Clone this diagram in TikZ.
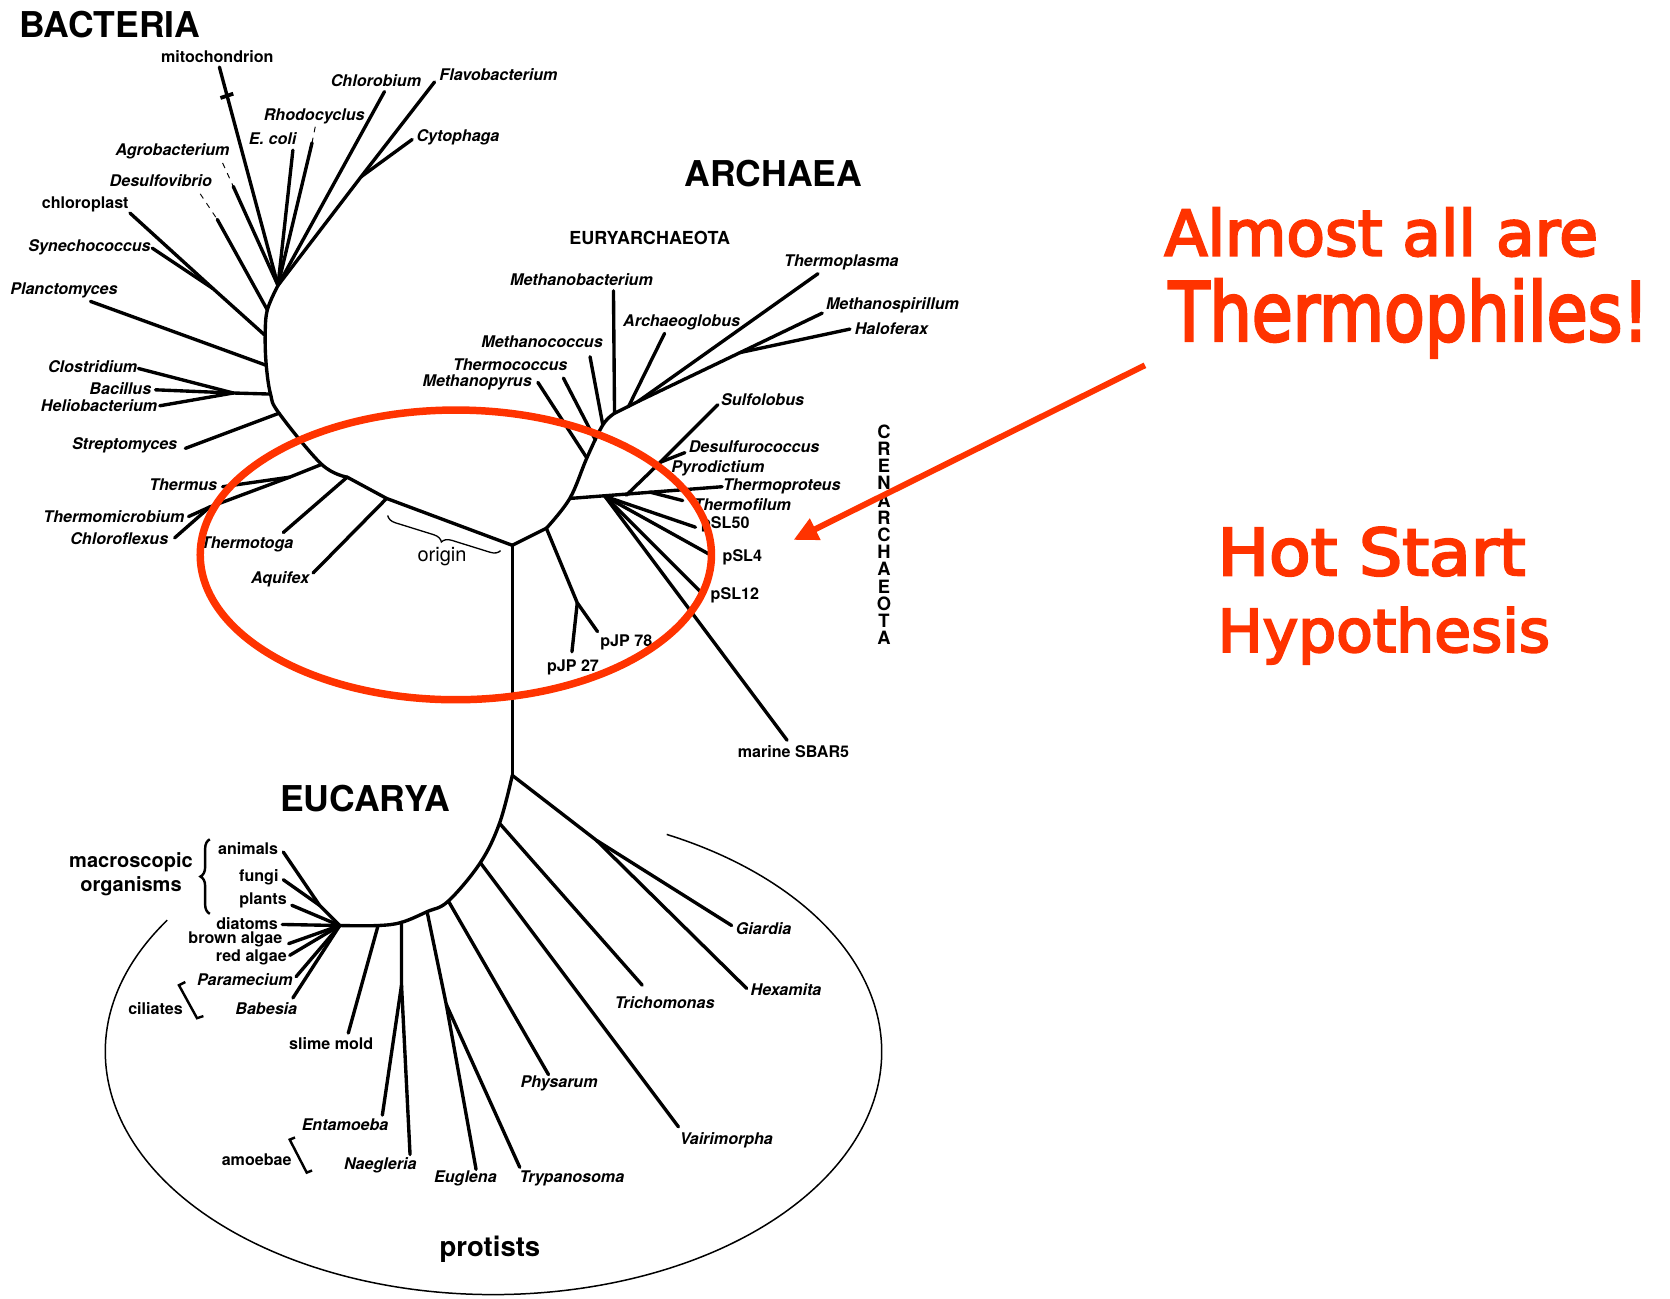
\documentclass[tikz,border=0pt]{standalone}
\usepackage{fontspec}
\usepackage{graphicx}
\setmainfont{TeX Gyre Heros}
\newfontfamily\comicfont[FakeBold=3.5]{DejaVu Sans}
\usetikzlibrary{arrows.meta,decorations.pathreplacing}
\definecolor{hotred}{RGB}{255,51,0}
\tikzset{
  branch/.style={line width=1.8pt, line cap=round, line join=round},
  faint/.style={line width=0.5pt},
  taxon/.style={font=\fontsize{8.6}{10}\selectfont\bfseries\itshape, inner sep=0pt},
  plainname/.style={font=\fontsize{8.6}{10}\selectfont\bfseries, inner sep=0pt},
  kingdom/.style={font=\fontsize{19}{22}\selectfont\bfseries, inner sep=0pt},
  hotnote/.style={text=hotred, inner sep=0pt, anchor=base west, font=\comicfont},
  hotring/.style={draw=hotred, line width=4pt},
  hotarrow/.style={draw=hotred, line width=3.2pt, -{Triangle[length=13pt,width=12pt]}},
}
\begin{document}
\begin{tikzpicture}[x=0.02cm, y=-0.02cm]
\useasboundingbox (0,0) rectangle (1568,1219);

\coordinate (root) at (481,512);
\coordinate (bj1) at (363,468);
\coordinate (bj2) at (326,448);
\coordinate (bj3) at (302,436);
\coordinate (bj4) at (262,388);
\coordinate (bj5) at (254,370);
\coordinate (bj6) at (250,343);
\coordinate (bj7) at (249,315);
\coordinate (bj8) at (251,291);
\coordinate (bj9) at (261,268);
\draw[branch] (root) -- (bj1) -- (bj2);
\draw[branch] plot[smooth, tension=0.6] coordinates {(bj2) (bj3) (bj4) (bj5) (bj6) (bj7) (bj8) (bj9)};

\coordinate (mi1) at (206,63);
\coordinate (mt1) at (207,92);
\coordinate (mt2) at (219,88);
\coordinate (ag1) at (209,153);
\coordinate (ag2) at (219,175);
\coordinate (ec1) at (275,141);
\coordinate (rh1) at (296,119);
\coordinate (rh2) at (293,134);
\coordinate (cb1) at (361,86);
\coordinate (fl1) at (408,77);
\coordinate (cy1) at (387,131);
\coordinate (cyj) at (339,166);
\coordinate (dv1) at (188,182);
\coordinate (dv2) at (204,206);
\coordinate (cp1) at (122,200);
\coordinate (sy1) at (143,233);
\coordinate (syj) at (200,271);
\coordinate (pl1) at (85,283);
\coordinate (cl1) at (130,346);
\coordinate (ba1) at (146,366);
\coordinate (he1) at (150,381);
\coordinate (clj) at (219,369);
\coordinate (st1) at (174,421);
\coordinate (ts1) at (209,457);
\coordinate (tsj) at (272,448);
\coordinate (tm1) at (177,485);
\coordinate (cf1) at (164,505);
\coordinate (tmj) at (197,476);
\coordinate (tg1) at (266,500);
\coordinate (aq1) at (294,538);
\draw[branch] (mi1) -- (bj9);
\draw[line width=2pt] (mt1) -- (mt2);
\draw[faint, dashed] (ag1) -- (ag2);
\draw[branch] (ag2) -- (bj9);
\draw[branch] (ec1) -- (bj9);
\draw[faint, dashed] (rh1) -- (rh2);
\draw[branch] (rh2) -- (bj9);
\draw[branch] (cb1) -- (bj9);
\draw[branch] (fl1) -- (cyj) -- (bj9);
\draw[branch] (cy1) -- (cyj);
\draw[faint, dashed] (dv1) -- (dv2);
\draw[branch] (dv2) -- (bj8);
\draw[branch] (cp1) -- (syj) -- (bj7);
\draw[branch] (sy1) -- (syj);
\draw[branch] (pl1) -- (bj6);
\draw[branch] (cl1) -- (clj);
\draw[branch] (ba1) -- (clj);
\draw[branch] (he1) -- (clj);
\draw[branch] (clj) -- (bj5);
\draw[branch] (st1) -- (bj4);
\draw[branch] (ts1) -- (tsj) -- (bj3);
\draw[branch] (tm1) -- (tmj);
\draw[branch] (cf1) -- (tmj);
\draw[branch] (tmj) -- (tsj);
\draw[branch] (tg1) -- (bj2);
\draw[branch] (aq1) -- (bj1);

\coordinate (aj1) at (513,496);
\coordinate (aj2) at (535,468);
\coordinate (aj3) at (551,430);
\coordinate (aj4) at (559,413);
\coordinate (aj5) at (566,399);
\coordinate (aj6) at (577,388);
\draw[branch] (root) -- (aj1);
\draw[branch] plot[smooth, tension=0.6] coordinates {(aj1) (aj2) (aj3) (aj5) (aj6)};

\coordinate (mp1) at (505,359);
\coordinate (tc1) at (529,355);
\coordinate (mc1) at (554,335);
\coordinate (mb1) at (576,273);
\coordinate (euj) at (599,377);
\coordinate (arg1) at (624,313);
\coordinate (argj) at (590,382);
\coordinate (tp1) at (768,257);
\coordinate (ms1) at (772,294);
\coordinate (hf1) at (798,309);
\coordinate (hfj) at (695,331);
\coordinate (pjj) at (542,566);
\coordinate (pj78) at (561,593);
\coordinate (pj27) at (537,612);
\draw[branch] (mp1) -- (aj3);
\draw[branch] (tc1) -- (aj4);
\draw[branch] (mc1) -- (aj5);
\draw[branch] (mb1) -- (aj6) -- (euj);
\draw[branch] (arg1) -- (argj);
\draw[branch] (tp1) -- (euj);
\draw[branch] (ms1) -- (hfj) -- (euj);
\draw[branch] (hf1) -- (hfj);
\draw[branch] (aj1) -- (pjj) -- (pj78);
\draw[branch] (pjj) -- (pj27);

\coordinate (crj) at (568,466);
\coordinate (tpr1) at (678,457);
\coordinate (tf1) at (641,470);
\coordinate (tfj) at (610,462);
\coordinate (su1) at (674,380);
\coordinate (suj) at (588,465);
\coordinate (dc1) at (643,425);
\coordinate (dcj) at (620,434);
\coordinate (ps50) at (653,495);
\coordinate (ps4) at (667,521);
\coordinate (ps12) at (659,557);
\coordinate (sb1) at (739,695);
\draw[branch] (aj2) -- (tpr1);
\draw[branch] (tf1) -- (tfj);
\draw[branch] (su1) -- (dcj) -- (suj);
\draw[branch] (dc1) -- (dcj);
\draw[branch] (ps50) -- (crj);
\draw[branch] (ps4) -- (crj);
\draw[branch] (ps12) -- (crj);
\draw[branch] (sb1) -- (crj);

\coordinate (ej0) at (481,728);
\coordinate (ej1) at (469,773);
\coordinate (ej2) at (451,810);
\coordinate (ej3) at (421,846);
\coordinate (ej4) at (401,856);
\coordinate (ej5) at (377,866);
\coordinate (ej6) at (355,869);
\coordinate (ej7) at (319,869);
\draw[branch] (root) -- (ej0);
\draw[branch] plot[smooth, tension=0.6] coordinates {(ej0) (ej1) (ej2) (ej3) (ej4) (ej5) (ej6) (ej7)};

\coordinate (ghj) at (560,789);
\coordinate (gi1) at (687,869);
\coordinate (hx1) at (701,928);
\coordinate (tr1) at (603,925);
\coordinate (va1) at (637,1058);
\coordinate (ph1) at (515,1009);
\coordinate (etj) at (419,943);
\coordinate (eu1) at (447,1098);
\coordinate (ty1) at (488,1096);
\coordinate (enj) at (377,925);
\coordinate (en1) at (359,1047);
\coordinate (ng1) at (385,1084);
\coordinate (sm1) at (327,970);
\coordinate (an1) at (266,800);
\coordinate (fu1) at (266,826);
\coordinate (afj) at (300,850);
\coordinate (pt1) at (274,850);
\coordinate (di1) at (265,868);
\coordinate (br1) at (271,886);
\coordinate (ra1) at (272,897);
\coordinate (pa1) at (278,917);
\coordinate (bb1) at (275,937);
\draw[branch] (ej0) -- (ghj) -- (gi1);
\draw[branch] (ghj) -- (hx1);
\draw[branch] (ej1) -- (tr1);
\draw[branch] (ej2) -- (va1);
\draw[branch] (ej3) -- (ph1);
\draw[branch] (ej4) -- (etj) -- (eu1);
\draw[branch] (etj) -- (ty1);
\draw[branch] (ej5) -- (enj) -- (en1);
\draw[branch] (enj) -- (ng1);
\draw[branch] (ej6) -- (sm1);
\draw[branch] (an1) -- (afj) -- (ej7);
\draw[branch] (fu1) -- (afj);
\draw[branch] (pt1) -- (ej7);
\draw[branch] (di1) -- (ej7);
\draw[branch] (br1) -- (ej7);
\draw[branch] (ra1) -- (ej7);
\draw[branch] (pa1) -- (ej7);
\draw[branch] (bb1) -- (ej7);

\node[kingdom] (nBac) at (103,23) {BACTERIA};
\node[plainname] (nMito) at (204,53) {mitochondrion};
\node[taxon] (nChlb) at (353,76) {Chlorobium};
\node[taxon] (nFlav) at (468,70) {Flavobacterium};
\node[taxon] (nRhod) at (295,109) {Rhodocyclus};
\node[taxon] (nEcol) at (256,130) {E. coli};
\node[taxon] (nCyto) at (430,129) {Cytophaga};
\node[taxon] (nAgro) at (162,142) {Agrobacterium};
\node[taxon] (nDesv) at (151,170) {Desulfovibrio};
\node[plainname] (nChlp) at (80,192) {chloroplast};
\node[taxon] (nSyne) at (84,232) {Synechococcus};
\node[taxon] (nPlan) at (60,273) {Planctomyces};
\node[taxon] (nClos) at (87,344) {Clostridium};
\node[taxon] (nBaci) at (113,365) {Bacillus};
\node[taxon] (nHeli) at (93,381) {Heliobacterium};
\node[taxon] (nStre) at (117,418) {Streptomyces};
\node[taxon] (nThms) at (172,455) {Thermus};
\node[taxon] (nThmi) at (107,485) {Thermomicrobium};
\node[taxon] (nChfl) at (112,506) {Chloroflexus};
\node[taxon] (nThtg) at (232,511) {Thermotoga};
\node[taxon] (nAqui) at (263,544) {Aquifex};
\node[font=\fontsize{10.7}{12}\selectfont, inner sep=0pt] (nOrig) at (415,523) {origin};
\draw[line width=0.7pt, decorate, decoration={brace, amplitude=5pt}] (470,517) -- (364,484);

\node[kingdom] (nArc) at (726,163) {ARCHAEA};
\node[font=\fontsize{9.6}{11}\selectfont\bfseries, inner sep=0pt] (nEury) at (610,223) {EURYARCHAEOTA};
\node[taxon] (nTpla) at (790,246) {Thermoplasma};
\node[taxon] (nMbac) at (546,263) {Methanobacterium};
\node[taxon] (nMspi) at (838,287) {Methanospirillum};
\node[taxon] (nArcg) at (640,303) {Archaeoglobus};
\node[taxon] (nHalo) at (837,309) {Haloferax};
\node[taxon] (nMcoc) at (509,321) {Methanococcus};
\node[taxon] (nTcoc) at (479,342) {Thermococcus};
\node[taxon] (nMpyr) at (448,359) {Methanopyrus};
\node[taxon] (nSulf) at (716,375) {Sulfolobus};
\node[taxon] (nDsfc) at (708,419) {Desulfurococcus};
\node[taxon] (nPyro) at (674,440) {Pyrodictium};
\node[taxon] (nTpro) at (734,457) {Thermoproteus};
\node[taxon] (nTfil) at (697,474) {Thermofilum};
\node[plainname] (nS50) at (681,492) {pSL50};
\node[plainname] (nS4) at (697,523) {pSL4};
\node[plainname] (nS12) at (690,559) {pSL12};
\node[plainname] (nJ78) at (588,603) {pJP 78};
\node[plainname] (nJ27) at (538,627) {pJP 27};
\node[plainname] (nSbar) at (745,706) {marine SBAR5};
\node[font=\fontsize{9.8}{9.2}\selectfont\bfseries, align=center, inner sep=0pt] (nCren) at (830,502)
  {C\\R\\E\\N\\A\\R\\C\\H\\A\\E\\O\\T\\A};

\node[kingdom] (nEuc) at (343,750) {EUCARYA};
\node[font=\fontsize{10.7}{12.5}\selectfont\bfseries, align=center, inner sep=0pt] (nMacro) at (123,821) {macroscopic\\organisms};
\draw[line width=1.3pt, decorate, decoration={brace, amplitude=5pt}] (197,858) -- (197,788);
\node[plainname] (nAnim) at (233,797) {animals};
\node[plainname] (nFung) at (243,824) {fungi};
\node[plainname] (nPlnt) at (247,845) {plants};
\node[plainname] (nDiat) at (232,867) {diatoms};
\node[plainname] (nBrow) at (221,882) {brown algae};
\node[plainname] (nReda) at (236,899) {red algae};
\node[taxon] (nPara) at (230,920) {Paramecium};
\node[taxon] (nBabe) at (250,947) {Babesia};
\node[plainname] (nCili) at (146,947) {ciliates};
\draw[line width=1.3pt] (174,922) -- (168,925) -- (185,956) -- (191,954);
\node[plainname] (nSlim) at (311,980) {slime mold};
\node[taxon] (nGiar) at (717,872) {Giardia};
\node[taxon] (nHexa) at (738,929) {Hexamita};
\node[taxon] (nTric) at (624,941) {Trichomonas};
\node[taxon] (nPhys) at (525,1017) {Physarum};
\node[taxon] (nEnta) at (324,1056) {Entamoeba};
\node[plainname] (nAmoe) at (241,1089) {amoebae};
\draw[line width=1.3pt] (277,1068) -- (272,1070) -- (288,1101) -- (293,1099);
\node[taxon] (nNaeg) at (357,1094) {Naegleria};
\node[taxon] (nEugl) at (437,1106) {Euglena};
\node[taxon] (nTryp) at (537,1106) {Trypanosoma};
\node[taxon] (nVair) at (682,1071) {Vairimorpha};
\node[font=\fontsize{14.7}{16}\selectfont\bfseries, inner sep=0pt] (nProt) at (460,1173) {protists};
\draw[line width=0.8pt] (157,864) arc[start angle=212.8, end angle=-63.5, x radius=364.5, y radius=228];

\draw[hotring] (428,521) ellipse[x radius=240, y radius=136];
\coordinate (arTail) at (1075,343);
\coordinate (arTip) at (745,507);
\draw[hotarrow] (arTail) -- (arTip);
\node[hotnote] (nAlmost) at (1093,240) {\resizebox{8.14cm}{0.9cm}{Almost all are}};
\node[hotnote] (nThermo) at (1097,320) {\resizebox{9.02cm}{1.16cm}{Thermophiles!}};
\node[hotnote] (nHot) at (1143,540) {\resizebox{5.78cm}{0.9cm}{Hot Start}};
\node[hotnote] (nHypo) at (1143,612) {\resizebox{6.24cm}{0.84cm}{Hypothesis}};
\end{tikzpicture}
\end{document}
